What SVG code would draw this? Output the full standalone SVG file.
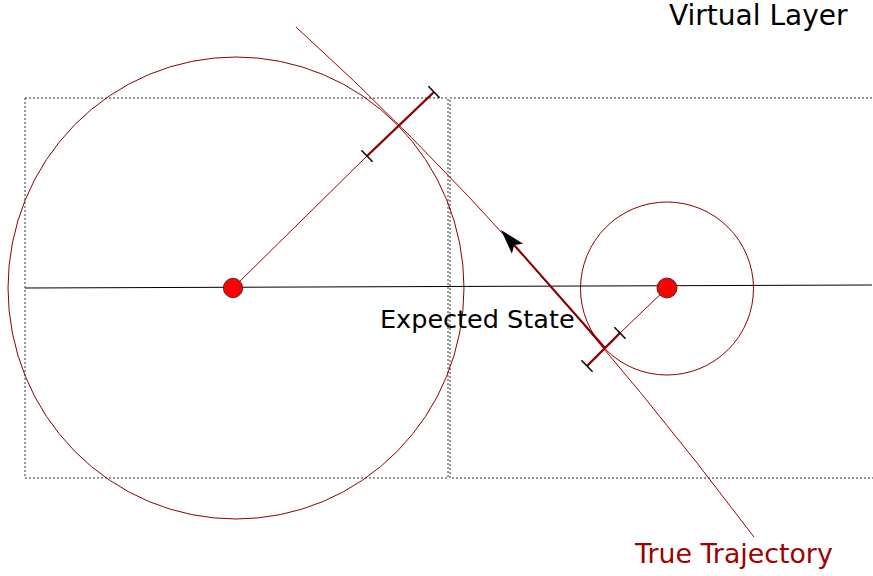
<svg xmlns="http://www.w3.org/2000/svg" width="873" height="576" viewBox="0 0 873 576">
  <style>
    .layer { fill: none; stroke: #333; stroke-width: 1; stroke-dasharray: 2 2; }
    .ring { fill: none; stroke: #8b0000; stroke-width: 1; }
    .thin { fill: none; stroke: #a00000; stroke-width: 1; }
    .thick { fill: none; stroke: #8b0000; stroke-width: 2.4; }
    .tick { fill: none; stroke: #000; stroke-width: 1.5; }
    .dot { fill: #ff0000; stroke: #222; stroke-width: 0.8; }
    .lbl { font-family: "DejaVu Sans", "Liberation Sans", sans-serif; fill: #000; }
    .red { fill: #a00000; }
  </style>
  <defs>
    <marker id="arrow" markerUnits="userSpaceOnUse" viewBox="-6 -9 27 18" markerWidth="27" markerHeight="18" refX="0" refY="0" orient="auto" overflow="visible">
      <path d="M20,0 L-5,-7.5 L0,0 L-5,7.5 Z" fill="#000"/>
    </marker>
  </defs>

  <g id="layers">
    <rect class="layer" x="25" y="98" width="423" height="380"/>
    <rect class="layer" x="450" y="98" width="430" height="380"/>
  </g>

  <g id="big-state">
    <ellipse class="ring" cx="236" cy="288" rx="228" ry="231"/>
  </g>
  <g id="small-state">
    <circle class="ring" cx="667" cy="288.5" r="86.5"/>
  </g>

  <g id="connectors">
    <path id="expected-line" d="M25,288 L872,285" fill="none" stroke="#000" stroke-width="1"/>
    <path id="trajectory" class="thin" d="M296,27 Q527,236 754,537"/>
    <g id="big-radius">
      <line class="thin" x1="233" y1="288" x2="367" y2="156"/>
      <line class="thick" x1="367" y1="156" x2="434" y2="92"/>
      <line class="tick" x1="361.4" y1="150.3" x2="372.6" y2="161.7"/>
      <line class="tick" x1="428.4" y1="86.3" x2="439.6" y2="97.7"/>
    </g>
    <g id="small-radius">
      <line class="thin" x1="667" y1="288" x2="620" y2="333"/>
      <line class="thick" x1="620" y1="333" x2="587" y2="366"/>
      <line class="tick" x1="614.4" y1="327.3" x2="625.6" y2="338.7"/>
      <line class="tick" x1="581.4" y1="360.3" x2="592.6" y2="371.7"/>
    </g>
    <line id="velocity" fill="none" stroke="#8b0000" stroke-width="2" x1="605" y1="348" x2="514.2" y2="245" marker-end="url(#arrow)"/>
  </g>

  <g id="big-dot"><circle class="dot" cx="233" cy="288" r="9.7"/></g>
  <g id="small-dot"><circle class="dot" cx="667" cy="288" r="10"/></g>

  <g id="label-virtual"><text class="lbl" x="669" y="25" font-size="28">Virtual Layer</text></g>
  <g id="label-expected"><text class="lbl" x="380" y="328" font-size="25.5">Expected State</text></g>
  <g id="label-true"><text class="lbl red" x="635" y="563" font-size="26.8">True Trajectory</text></g>
</svg>
